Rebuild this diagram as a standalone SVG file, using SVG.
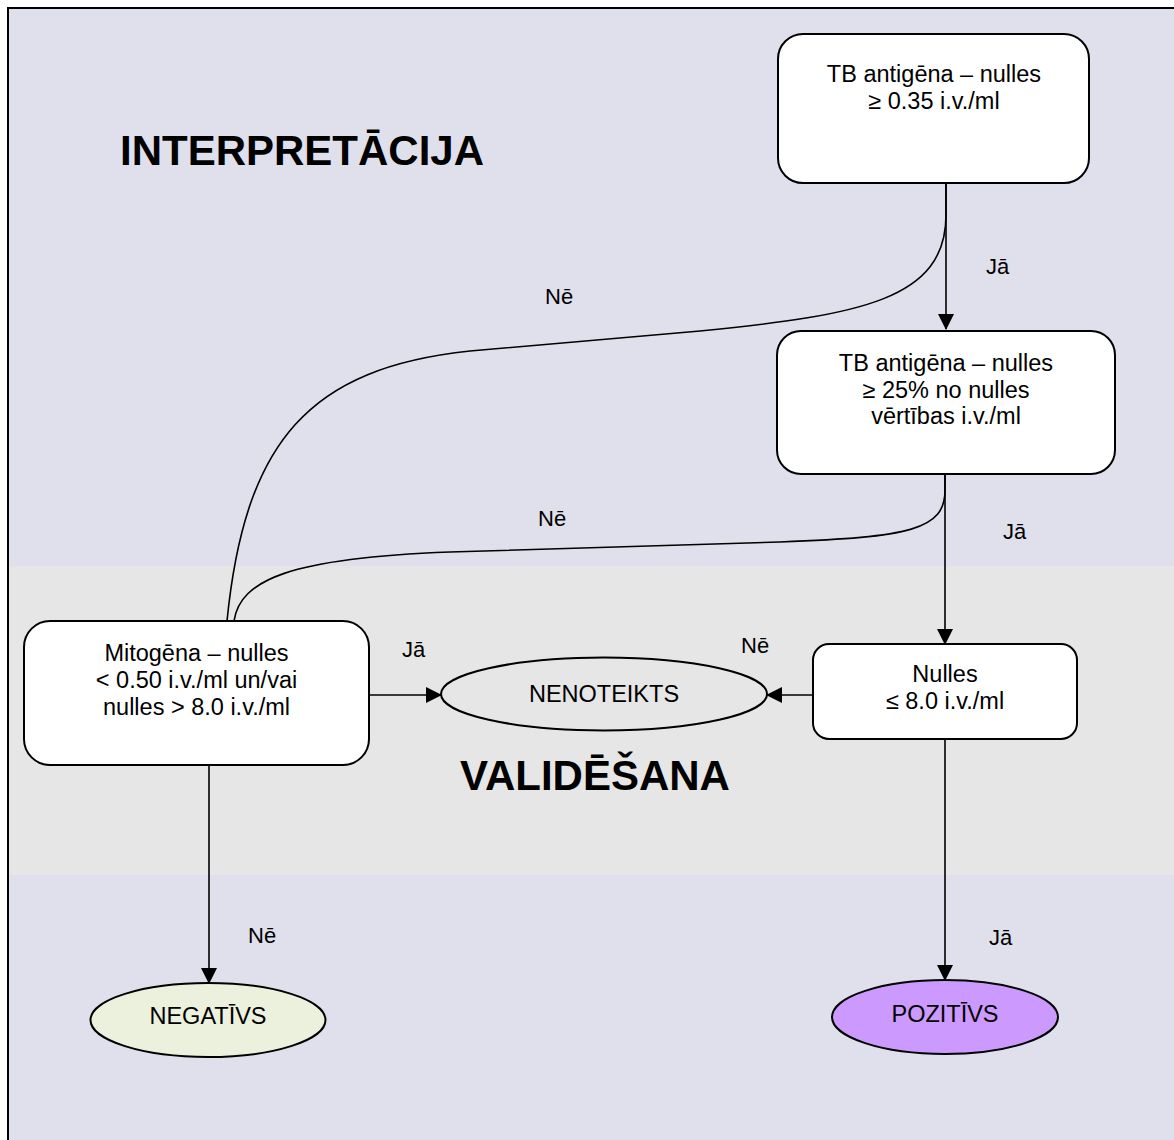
<svg xmlns="http://www.w3.org/2000/svg" width="1174" height="1140" viewBox="0 0 1174 1140">
<style>
text{font-family:"Liberation Sans",Arial,sans-serif;fill:#000}
.t{font-size:23.5px;text-anchor:middle}
.l{font-size:22px}
.h{font-size:42px;font-weight:bold}
.box{fill:#fff;stroke:#000;stroke-width:2}
.ell{stroke:#000;stroke-width:2}
.c{fill:none;stroke:#000;stroke-width:1.6}
</style>
<defs>
<marker id="ah" markerUnits="userSpaceOnUse" markerWidth="16" markerHeight="16" viewBox="0 0 16 16" refX="15" refY="8" orient="auto">
<path d="M0,0 L16,8 L0,16 Z" fill="#000"/>
</marker>
</defs>
<g id="background">
<rect x="8" y="8" width="1170" height="1140" fill="#E0E0EC" stroke="#000" stroke-width="2"/>
<rect x="9" y="566" width="1166" height="309" fill="#E6E6E6"/>
<text class="h" x="120" y="165">INTERPRETĀCIJA</text>
<text class="h" x="460" y="790">VALIDĒŠANA</text>
</g>
<g id="connectors">
<path class="c" d="M946,183 L946,329" marker-end="url(#ah)"/>
<path class="c" d="M946,183 L946,215 C946,300 860,315 700,331 L470,351 C310,368 245,440 227,621"/>
<path class="c" d="M945,474 L945,644" marker-end="url(#ah)"/>
<path class="c" d="M945,474 L945,490 C945,530 910,537 780,542 L450,552 C290,558 240,580 234,621"/>
<path class="c" d="M813,695 L767,695" marker-end="url(#ah)"/>
<path class="c" d="M369,695 L441,695" marker-end="url(#ah)"/>
<path class="c" d="M209,765 L209,983" marker-end="url(#ah)"/>
<path class="c" d="M945,739 L945,980" marker-end="url(#ah)"/>
<text class="l" x="986" y="274">Jā</text>
<text class="l" x="545" y="304">Nē</text>
<text class="l" x="538" y="526">Nē</text>
<text class="l" x="1003" y="539">Jā</text>
<text class="l" x="402" y="657">Jā</text>
<text class="l" x="741" y="653">Nē</text>
<text class="l" x="248" y="943">Nē</text>
<text class="l" x="989" y="945">Jā</text>
</g>
<g id="node-tb1">
<rect class="box" x="778" y="34" width="311" height="149" rx="25"/>
<text class="t" x="934" y="82">TB antigēna – nulles</text>
<text class="t" x="934" y="109">≥ 0.35 i.v./ml</text>
</g>
<g id="node-tb2">
<rect class="box" x="777" y="331" width="338" height="143" rx="24"/>
<text class="t" x="946" y="371">TB antigēna – nulles</text>
<text class="t" x="946" y="397.5">≥ 25% no nulles</text>
<text class="t" x="946" y="423.5">vērtības i.v./ml</text>
</g>
<g id="node-mitogen">
<rect class="box" x="24" y="621" width="345" height="144" rx="26"/>
<text class="t" x="196.5" y="660.5">Mitogēna – nulles</text>
<text class="t" x="196.5" y="687.5">&lt; 0.50 i.v./ml un/vai</text>
<text class="t" x="196.5" y="714.5">nulles &gt; 8.0 i.v./ml</text>
</g>
<g id="node-nulles">
<rect class="box" x="813" y="644" width="264" height="95" rx="16"/>
<text class="t" x="945" y="682">Nulles</text>
<text class="t" x="945" y="708.5">≤ 8.0 i.v./ml</text>
</g>
<g id="node-nenoteikts">
<ellipse class="ell" cx="604" cy="694" rx="163" ry="36.5" fill="#E6E6E6"/>
<text class="t" x="604" y="702">NENOTEIKTS</text>
</g>
<g id="node-negativs">
<ellipse class="ell" cx="208" cy="1020" rx="117.5" ry="37" fill="#EBF1DD"/>
<text class="t" x="208" y="1023.5">NEGATĪVS</text>
</g>
<g id="node-pozitivs">
<ellipse class="ell" cx="945" cy="1017" rx="113" ry="37" fill="#CC99FF"/>
<text class="t" x="945" y="1022">POZITĪVS</text>
</g>
</svg>
